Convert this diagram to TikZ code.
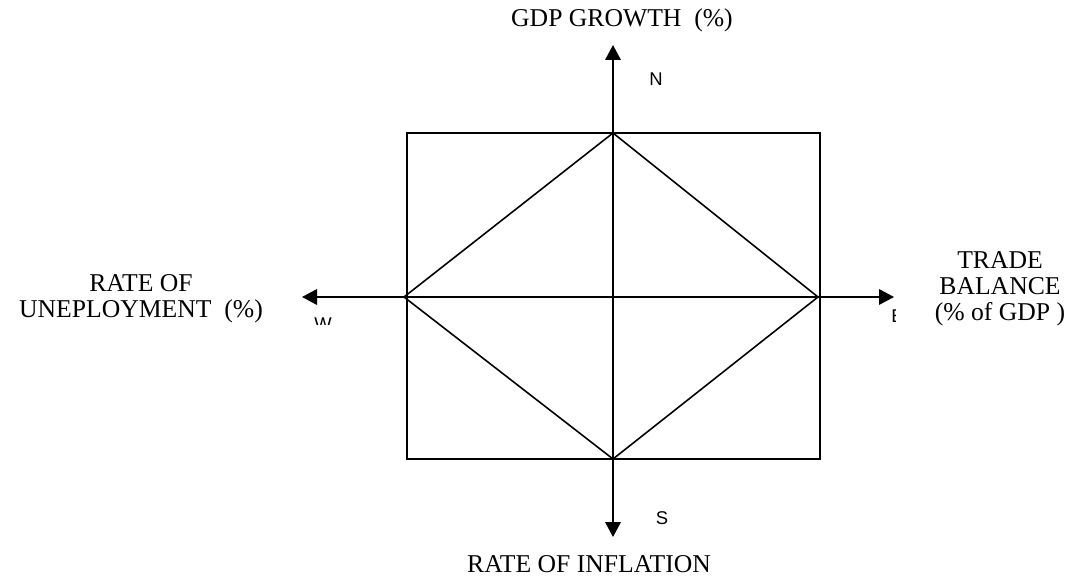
\documentclass[tikz,border=0pt]{standalone}
\usepackage{fontspec}
\setmainfont{Liberation Serif}
\newfontfamily\compassfont{Liberation Sans}
\usetikzlibrary{arrows.meta}

\begin{document}
\begin{tikzpicture}[x=0.02cm, y=-0.02cm,
axis/.style={line width=1.1pt, -{Triangle[length=0.3cm, width=0.31cm]}},
frame/.style={line width=0.9pt},
axislabel/.style={font=\fontsize{14.6}{15}\selectfont, align=center, inner sep=0pt},
compass/.style={font=\compassfont\fontsize{10.5}{12}\selectfont, inner sep=0pt, anchor=base}
]
\useasboundingbox (0,0) rectangle (1072,580);

% axes
\coordinate (center) at (613,297);
\coordinate (north) at (613,45);
\coordinate (south) at (613,537);
\coordinate (west) at (302,297);
\coordinate (east) at (894,297);
\foreach \tip in {north,south,west,east}
  \draw[axis] (center) -- (\tip);

% box and diamond
\coordinate (boxnw) at (407,133);
\coordinate (boxse) at (820,459);
\coordinate (top) at (613,133);
\coordinate (right) at (818,297);
\coordinate (bottom) at (613,459);
\coordinate (left) at (404,297);
\draw[frame] (boxnw) rectangle (boxse);
\draw[frame] (top) -- (right) -- (bottom) -- (left) -- cycle;

% axis labels
\node[axislabel, anchor=base] (growth) at (622,27) {GDP GROWTH\ \ (\%)};
\node[axislabel, anchor=base] (inflation) at (589,573) {RATE OF INFLATION};
\node[axislabel, anchor=base] (unemployment) at (141,318) {RATE OF\\UNEPLOYMENT\ \ (\%)};
\node[axislabel, anchor=base] (trade) at (1000,321) {TRADE\\BALANCE\\(\% of GDP )};

% compass letters
\node[compass] (n) at (656,86) {N};
\node[compass] (s) at (662,525) {S};
\begin{scope}
  \clip (300,300) rectangle (350,325);
  \node[compass] (w) at (323,331) {W};
\end{scope}
\begin{scope}
  \clip (880,300) rectangle (895,330);
  \node[compass, anchor=base west] (e) at (891,323) {E};
\end{scope}
\end{tikzpicture}
\end{document}
